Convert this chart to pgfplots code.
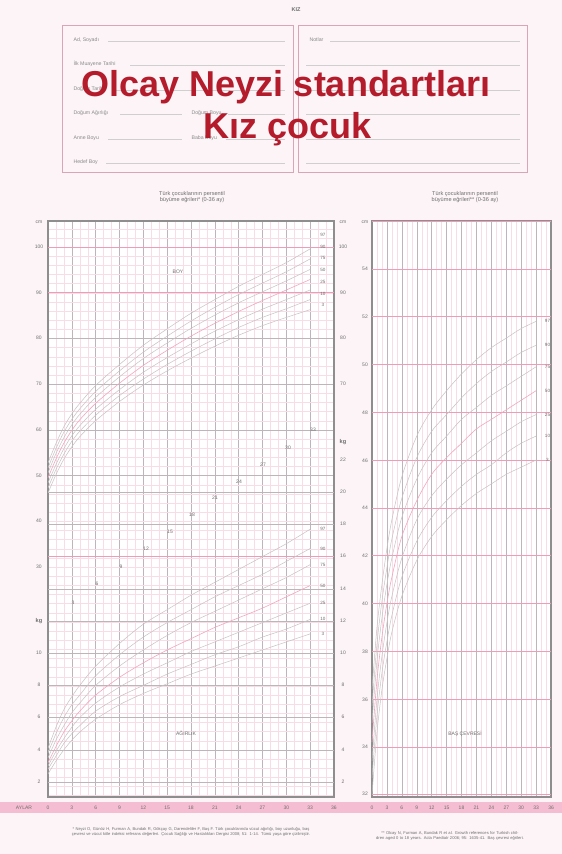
\documentclass[border=0pt]{standalone}
\usepackage{fontspec}
\setmainfont{Liberation Sans}
\usepackage{pgfplots}
\usepackage{pgfplotstable}
\pgfplotsset{compat=1.18}

\definecolor{pagebg}{HTML}{FCF4F7}
\definecolor{minorpink}{HTML}{F8DCE6}
\definecolor{majgray}{HTML}{BDB5B9}
\definecolor{majpink}{HTML}{EC9DB8}
\definecolor{curvegray}{HTML}{C8C2C5}
\definecolor{curvepink}{HTML}{EFA8C0}
\definecolor{labgray}{HTML}{6E6E6E}
\definecolor{framec}{HTML}{8E8E8E}
\definecolor{titlered}{HTML}{B41C2C}
\definecolor{band}{HTML}{F5BDD1}
\definecolor{boxc}{HTML}{D9A6B8}
\definecolor{formline}{HTML}{CFCFCF}

\pgfplotstableread{
age p3 p10 p25 p50 p75 p90 p97
0 46.2 47.3 48.4 49.5 50.6 51.7 52.8
1 50.2 51.3 52.4 53.6 54.8 55.9 57.0
2 53.6 54.7 55.9 57.1 58.3 59.5 60.7
3 56.3 57.5 58.7 59.9 61.1 62.3 63.5
4 58.5 59.7 60.9 62.2 63.4 64.6 65.8
6 62.0 63.2 64.5 65.8 67.1 68.4 69.7
9 66.2 67.5 68.8 70.2 71.6 72.9 74.3
12 69.8 71.1 72.6 74.1 75.6 77.0 78.5
15 72.9 74.3 75.8 77.4 79.0 80.5 82.1
18 75.7 77.2 78.8 80.5 82.2 83.8 85.5
21 78.3 79.9 81.6 83.3 85.1 86.8 88.5
24 80.7 82.4 84.1 85.9 87.8 89.6 91.4
27 82.8 84.6 86.4 88.3 90.2 92.1 94.0
30 84.6 86.5 88.5 90.6 92.6 94.6 96.6
33 86.3 88.5 90.6 92.9 95.1 97.4 99.6
}\lengthtab

\pgfplotstableread{
age p3 p10 p25 p50 p75 p90 p97
0 2.5 2.8 3.0 3.2 3.5 3.8 4.1
1 3.3 3.6 3.9 4.2 4.6 5.0 5.4
2 4.0 4.4 4.7 5.1 5.5 6.0 6.5
3 4.6 5.0 5.4 5.8 6.3 6.8 7.3
4 5.1 5.5 6.0 6.4 6.9 7.4 8.0
6 5.9 6.4 6.9 7.4 8.0 8.6 9.2
9 6.8 7.3 7.9 8.5 9.2 9.9 10.6
12 7.5 8.0 8.7 9.4 10.2 11.0 11.8
15 8.1 8.7 9.4 10.2 11.1 11.9 12.7
18 8.7 9.3 10.1 10.9 11.9 12.7 13.6
21 9.2 9.9 10.7 11.6 12.6 13.5 14.4
24 9.7 10.4 11.3 12.2 13.3 14.2 15.2
27 10.2 11.0 11.9 12.8 14.0 14.9 16.0
30 10.7 11.5 12.5 13.5 14.7 15.7 16.8
33 11.2 12.1 13.1 14.2 15.5 16.5 17.7
}\weighttab

\pgfplotstableread{
age p3 p10 p25 p50 p75 p90 p97
0 32.0 32.7 33.4 34.2 35.0 35.7 36.4
1 34.6 35.3 36.0 36.8 37.6 38.3 39.0
2 36.4 37.1 37.8 38.6 39.4 40.1 40.8
3 37.7 38.4 39.2 40.0 40.8 41.5 42.3
4 38.8 39.5 40.3 41.1 41.9 42.7 43.5
6 40.3 41.1 41.9 42.8 43.6 44.4 45.3
9 41.8 42.6 43.5 44.3 45.2 46.1 47.0
12 42.8 43.6 44.5 45.4 46.3 47.2 48.1
15 43.5 44.3 45.2 46.1 47.0 47.9 48.9
18 44.1 44.9 45.8 46.7 47.7 48.6 49.6
21 44.6 45.4 46.3 47.3 48.2 49.2 50.2
24 45.0 45.8 46.8 47.7 48.7 49.7 50.7
27 45.4 46.3 47.2 48.1 49.1 50.1 51.1
30 45.7 46.7 47.6 48.5 49.5 50.5 51.5
33 46.0 47.0 47.9 48.9 49.9 50.8 51.8
}\headtab

\tikzset{plab/.style={font=\fontsize{4.6}{5}\selectfont, text=labgray}}
\pgfplotsset{
  base/.style={scale only axis, anchor=south west, height=576pt, xmin=0, xmax=36,
    xticklabels={}, yticklabels={}, extra x tick labels={}, extra y tick labels={},
    tick label style={opacity=0},
    major tick length=0pt, minor tick length=0pt},
  leftc/.style={base, at={(48pt,-797pt)}, width=286pt},
  rightc/.style={base, at={(372pt,-797pt)}, width=179pt},
  lenax/.style={ymin=-20.32, ymax=105.69},
  wtax/.style={ymin=1.068, ymax=36.84},
  hcax/.style={ymin=31.9, ymax=56.0},
  invis/.style={axis line style={draw=none}, tick style={draw=none}},
  curve/.style={curvegray, line width=0.5pt, smooth, no marks},
  curvem/.style={curvepink, line width=0.6pt, smooth, no marks},
}

\begin{document}
\begin{tikzpicture}
\path[use as bounding box, fill=pagebg] (0pt,0pt) rectangle (562pt,-854pt);

% ---------- header ----------
\begin{scope}[x=1pt,y=-1pt]
\node[font=\fontsize{5.5}{6}\selectfont\bfseries, text=labgray] at (296,10) {KIZ};
\draw[boxc, line width=0.7pt] (62,25) rectangle (293,172);
\draw[boxc, line width=0.7pt] (298,25) rectangle (527,172);
\begin{scope}[every node/.style={anchor=base west, font=\fontsize{5.2}{6}\selectfont, text=labgray!80}]
\node at (70,41) {Ad, Soyadı}; \draw[formline,line width=0.4pt] (108,41)--(285,41);
\node at (70,65) {İlk Muayene Tarihi}; \draw[formline,line width=0.4pt] (130,65)--(285,65);
\node at (70,90) {Doğum Tarihi}; \draw[formline,line width=0.4pt] (116,90)--(285,90);
\node at (70,114) {Doğum Ağırlığı}; \draw[formline,line width=0.4pt] (120,114)--(182,114);
\node at (188,114) {Doğum Boyu}; \draw[formline,line width=0.4pt] (228,114)--(285,114);
\node at (70,139) {Anne Boyu}; \draw[formline,line width=0.4pt] (108,139)--(182,139);
\node at (188,139) {Baba Boyu}; \draw[formline,line width=0.4pt] (226,139)--(285,139);
\node at (70,163) {Hedef Boy}; \draw[formline,line width=0.4pt] (106,163)--(285,163);
\node at (306,41) {Notlar}; \draw[formline,line width=0.4pt] (330,41)--(520,41);
\foreach \yy in {65,90,114,139,163} {\draw[formline,line width=0.4pt] (306,\yy)--(520,\yy);}
\end{scope}
\node[anchor=base, font=\fontsize{36}{36}\selectfont\bfseries, text=titlered] at (286,96) {Olcay Neyzi standartları};
\node[anchor=base, font=\fontsize{36}{36}\selectfont\bfseries, text=titlered] at (288,138) {Kız çocuk};

% chart titles
\node[font=\fontsize{5.6}{6.6}\selectfont, text=labgray, align=center] at (192,197) {Türk çocuklarının persentil\\büyüme eğrileri* (0-36 ay)};
\node[font=\fontsize{5.6}{6.6}\selectfont, text=labgray, align=center] at (465,197) {Türk çocuklarının persentil\\büyüme eğrileri** (0-36 ay)};
\end{scope}

% ---------- left chart grids ----------
\begin{axis}[leftc, lenax,
  xtick={0,3,...,36}, minor xtick={0,1,...,36},
  ytick={50,60,70,80}, minor ytick={-20,-18,...,104},
  grid=both,
  minor grid style={minorpink, line width=0.35pt},
  major grid style={majgray, line width=0.45pt},
  extra y ticks={90,100},
  extra y tick style={grid=major, major grid style={majpink, line width=0.6pt}},
  axis line style={framec, line width=1.1pt},
  axis background/.style={fill=white}]
\end{axis}
\begin{axis}[leftc, wtax, invis, xtick=\empty,
  ytick={2,4,...,14,18,20}, ymajorgrids, major grid style={majgray, line width=0.45pt},
  extra y ticks={16},
  extra y tick style={grid=major, major grid style={majpink, line width=0.6pt}}]
\end{axis}

% ---------- left chart curves ----------
\begin{axis}[leftc, lenax, hide axis, clip=false]
\addplot[curve] table[x=age,y=p3]{\lengthtab};
\addplot[curve] table[x=age,y=p10]{\lengthtab};
\addplot[curve] table[x=age,y=p25]{\lengthtab};
\addplot[curvem] table[x=age,y=p50]{\lengthtab};
\addplot[curve] table[x=age,y=p75]{\lengthtab};
\addplot[curve] table[x=age,y=p90]{\lengthtab};
\addplot[curve] table[x=age,y=p97]{\lengthtab};
\node[plab] at (axis cs:34.6,102.6) {97};
\node[plab] at (axis cs:34.6,100.0) {90};
\node[plab] at (axis cs:34.6,97.5) {75};
\node[plab] at (axis cs:34.6,95.0) {50};
\node[plab] at (axis cs:34.6,92.4) {25};
\node[plab] at (axis cs:34.6,89.8) {10};
\node[plab] at (axis cs:34.6,87.3) {3};
\end{axis}
\begin{axis}[leftc, wtax, hide axis, clip=false]
\addplot[curve] table[x=age,y=p3]{\weighttab};
\addplot[curve] table[x=age,y=p10]{\weighttab};
\addplot[curve] table[x=age,y=p25]{\weighttab};
\addplot[curvem] table[x=age,y=p50]{\weighttab};
\addplot[curve] table[x=age,y=p75]{\weighttab};
\addplot[curve] table[x=age,y=p90]{\weighttab};
\addplot[curve] table[x=age,y=p97]{\weighttab};
\node[plab] at (axis cs:34.6,17.7) {97};
\node[plab] at (axis cs:34.6,16.5) {90};
\node[plab] at (axis cs:34.6,15.5) {75};
\node[plab] at (axis cs:34.6,14.2) {50};
\node[plab] at (axis cs:34.6,13.1) {25};
\node[plab] at (axis cs:34.6,12.1) {10};
\node[plab] at (axis cs:34.6,11.2) {3};
\end{axis}

% ---------- right chart ----------
\begin{axis}[rightc, hcax,
  xtick={0,3,...,36}, minor xtick={0,1,...,36},
  ytick=\empty, minor ytick={32,32.5,...,56},
  xmajorgrids, xminorgrids, yminorgrids,
  minor grid style={minorpink, line width=0.35pt},
  major grid style={majgray, line width=0.45pt},
  extra y ticks={32,34,...,56},
  extra y tick style={grid=major, major grid style={majpink, line width=0.6pt}},
  axis line style={framec, line width=1.1pt},
  axis background/.style={fill=white}]
\end{axis}
\begin{axis}[rightc, hcax, hide axis, clip=false]
\addplot[curve] table[x=age,y=p3]{\headtab};
\addplot[curve] table[x=age,y=p10]{\headtab};
\addplot[curve] table[x=age,y=p25]{\headtab};
\addplot[curvem] table[x=age,y=p50]{\headtab};
\addplot[curve] table[x=age,y=p75]{\headtab};
\addplot[curve] table[x=age,y=p90]{\headtab};
\addplot[curve] table[x=age,y=p97]{\headtab};
\node[plab] at (axis cs:35.3,51.8) {97};
\node[plab] at (axis cs:35.3,50.8) {90};
\node[plab] at (axis cs:35.3,49.9) {75};
\node[plab] at (axis cs:35.3,48.9) {50};
\node[plab] at (axis cs:35.3,47.9) {25};
\node[plab] at (axis cs:35.3,47.0) {10};
\node[plab] at (axis cs:35.3,46.0) {3};
\end{axis}

% ---------- labels around charts ----------
\begin{scope}[x=1pt,y=-1pt, every node/.style={font=\fontsize{5}{5}\selectfont, text=labgray}]
% left chart, left side
\node at (39,222) {cm};
\foreach \v/\yy in {100/247,90/293,80/338,70/384,60/430,50/476,40/521,30/567} {\node at (39,\yy) {\v};}
\node[font=\fontsize{5.6}{6}\selectfont\bfseries] at (39,621) {kg};
\foreach \v/\yy in {10/653,8/685,6/717,4/750,2/782} {\node at (39,\yy) {\v};}
% left chart, right side
\node at (343,222) {cm};
\foreach \v/\yy in {100/247,90/293,80/338,70/384} {\node at (343,\yy) {\v};}
\node[font=\fontsize{5.6}{6}\selectfont\bfseries] at (343,442) {kg};
\foreach \v/\yy in {22/460,20/492,18/524,16/556,14/589,12/621,10/653,8/685,6/717,4/750,2/782} {\node at (343,\yy) {\v};}
% right chart, left side
\node at (365,222) {cm};
\foreach \v/\yy in {54/269,52/317,50/365,48/413,46/461,44/508,42/556,40/604,38/652,36/700,34/747,32/794} {\node at (365,\yy) {\v};}
% chart names
\node at (178,272) {BOY};
\node at (186,733) {AĞIRLIK};
\node at (465,734) {BAŞ ÇEVRESİ};
% diagonal month numbers
\foreach \v/\xx/\yy in {3/73/603,6/97/584,9/121/567,12/146/549,15/170/532,18/192/515,21/215/498,24/239/482,27/263/465,30/288/448,33/313/430} {\node at (\xx,\yy) {\v};}
% bottom band
\fill[band] (0,802) rectangle (562,813);
\node at (24,807.5) {AYLAR};
\foreach \i in {0,...,12} {
  \pgfmathsetmacro{\xl}{48+23.83*\i}\pgfmathtruncatemacro{\m}{3*\i}
  \node at (\xl,807.5) {\m};
  \pgfmathsetmacro{\xr}{372+14.92*\i}
  \node at (\xr,807.5) {\m};
}
% footnotes
\node[font=\fontsize{4.1}{5.2}\selectfont, text=labgray, text width=268pt, align=center] at (191,832) {* Neyzi O, Günöz H, Furman A, Bundak R, Gökçay G, Darendeliler F, Baş F. Türk çocuklarında vücut ağırlığı, boy uzunluğu, baş çevresi ve vücut kitle indeksi referans değerleri. Çocuk Sağlığı ve Hastalıkları Dergisi 2008; 51: 1-14. Tümü yaşa göre çizilmiştir.};
\node[font=\fontsize{4.1}{5.2}\selectfont, text=labgray, text width=200pt, align=center] at (450,836) {** Olcay N, Furman A, Bundak R et al. Growth references for Turkish children aged 0 to 18 years. Acta Paediatr 2006; 95: 1635-41. Baş çevresi eğrileri.};
\end{scope}
\end{tikzpicture}
\end{document}
